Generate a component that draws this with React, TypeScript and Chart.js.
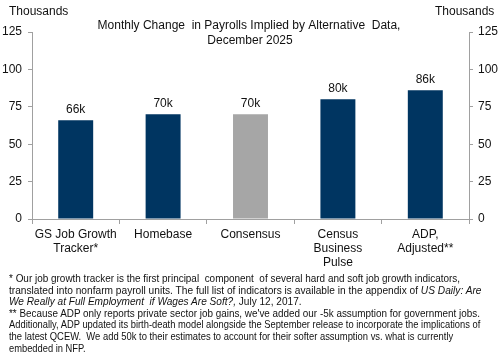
import React, { useEffect, useLayoutEffect, useRef } from "react";
import { Chart, registerables } from "chart.js";

Chart.register(...registerables);

const categories: string[][] = [
  ["GS Job Growth", "Tracker*"],
  ["Homebase"],
  ["Consensus"],
  ["Census", "Business", "Pulse"],
  ["ADP,", "Adjusted**"],
];
const values: number[] = [66, 70, 70, 80, 86];
const valueLabels: string[] = ["66k", "70k", "70k", "80k", "86k"];
const barColors: string[] = ["#003561", "#003561", "#a6a6a6", "#003561", "#003561"];
const yTicks: number[] = [0, 25, 50, 75, 100, 125];
const titleLines: string[] = ["Monthly Change  in Payrolls Implied by Alternative  Data,", "December 2025"];
const unitLabel = "Thousands";

// footnote lines: [normal, italic, normal]
const noteLines: [string, string, string][] = [
  ["* Our job growth tracker is the first principal  component  of several hard and soft job growth indicators,", "", ""],
  ["translated into nonfarm payroll units. The full list of indicators is available in the appendix of ", "US Daily: Are", ""],
  ["", "We Really at Full Employment  if Wages Are Soft?,", " July 12, 2017."],
  ["** Because ADP only reports private sector job gains, we've added our -5k assumption for government jobs.", "", ""],
  ["Additionally, ADP updated its birth-death model alongside the September release to incorporate the implications of", "", ""],
  ["the latest QCEW.  We add 50k to their estimates to account for their softer assumption vs. what is currently", "", ""],
  ["embedded in NFP.", "", ""],
];
const noteWidths: number[] = [451, 473, 293, 471, 471, 444, 77];

const FONT = "'Liberation Sans', Arial, sans-serif";

const overlayPlugin = {
  id: "overlay",
  afterDatasetsDraw(chart: any) {
    const ctx = chart.ctx;
    const meta = chart.getDatasetMeta(0);
    ctx.save();
    ctx.font = `12px ${FONT}`;
    ctx.fillStyle = "#111";
    ctx.textAlign = "center";
    ctx.textBaseline = "middle";
    meta.data.forEach((bar: any, i: number) => {
      ctx.fillText(valueLabels[i], bar.x, bar.y - 11);
    });
    ctx.fillText(titleLines[0], 249, 26);
    ctx.fillText(titleLines[1], 250, 41);
    ctx.textAlign = "left";
    ctx.fillText(unitLabel, 9, 12);
    ctx.fillText(unitLabel, 435, 12);
    ctx.restore();
  },
};

export default function App() {
  const ref = useRef<HTMLCanvasElement | null>(null);
  const lineRefs = useRef<(HTMLDivElement | null)[]>([]);

  useLayoutEffect(() => {
    lineRefs.current.forEach((el, i) => {
      if (!el) return;
      const w = el.scrollWidth;
      if (w > 0) el.style.transform = `scaleX(${noteWidths[i] / w})`;
    });
  }, []);

  useEffect(() => {
    if (!ref.current) return;
    const chart = new Chart(ref.current, {
      type: "bar",
      data: {
        labels: categories,
        datasets: [
          {
            data: values,
            backgroundColor: barColors,
            borderWidth: 0,
            barPercentage: 0.4,
            categoryPercentage: 1,
            yAxisID: "y",
          },
        ],
      },
      options: {
        responsive: false,
        animation: false,
        events: [],
        layout: { padding: { left: 0, right: 0, top: 32, bottom: 0 } },
        plugins: { legend: { display: false }, title: { display: false }, tooltip: { enabled: false } },
        scales: {
          x: {
            offset: true,
            grid: { offset: true, drawOnChartArea: false, tickLength: 5, color: "#a0a0a0", tickColor: "#a0a0a0" },
            border: { color: "#a0a0a0" },
            ticks: { font: { family: FONT, size: 12 }, color: "#111", padding: 3, maxRotation: 0, autoSkip: false },
            afterFit: (s: any) => { s.height = 137; },
          },
          y: {
            position: "left",
            min: 0,
            max: 125,
            afterBuildTicks: (s: any) => { s.ticks = yTicks.map((v) => ({ value: v })); },
            grid: { drawOnChartArea: false, tickLength: 4, tickColor: "#a0a0a0" },
            border: { color: "#a0a0a0" },
            ticks: { font: { family: FONT, size: 12 }, color: "#111", padding: 6 },
            afterFit: (s: any) => { s.width = 32; },
          },
          y2: {
            position: "right",
            min: 0,
            max: 125,
            afterBuildTicks: (s: any) => { s.ticks = yTicks.map((v) => ({ value: v })); },
            grid: { drawOnChartArea: false, tickLength: 4, tickColor: "#a0a0a0" },
            border: { color: "#a0a0a0" },
            ticks: { font: { family: FONT, size: 12 }, color: "#111", padding: 5 },
            afterFit: (s: any) => { s.width = 31; },
          },
        },
      },
      plugins: [overlayPlugin],
    });
    return () => chart.destroy();
  }, []);

  return (
    <div style={{ position: "fixed", left: 0, top: 0, width: 500, height: 356, background: "#fff", overflow: "hidden" }}>
      <canvas ref={ref} width={500} height={356} style={{ position: "absolute", left: 0, top: 0, width: 500, height: 356 }} />
      <div style={{ position: "absolute", left: 9, top: 273, fontFamily: FONT, fontSize: 10.3, lineHeight: "11.6px", color: "#111" }}>
        {noteLines.map((ln, i) => (
          <div
            key={i}
            ref={(el) => { lineRefs.current[i] = el; }}
            style={{ whiteSpace: "pre", width: "max-content", transformOrigin: "0 0" }}
          >
            {ln[0]}
            {ln[1] ? <i>{ln[1]}</i> : null}
            {ln[2]}
          </div>
        ))}
      </div>
    </div>
  );
}
